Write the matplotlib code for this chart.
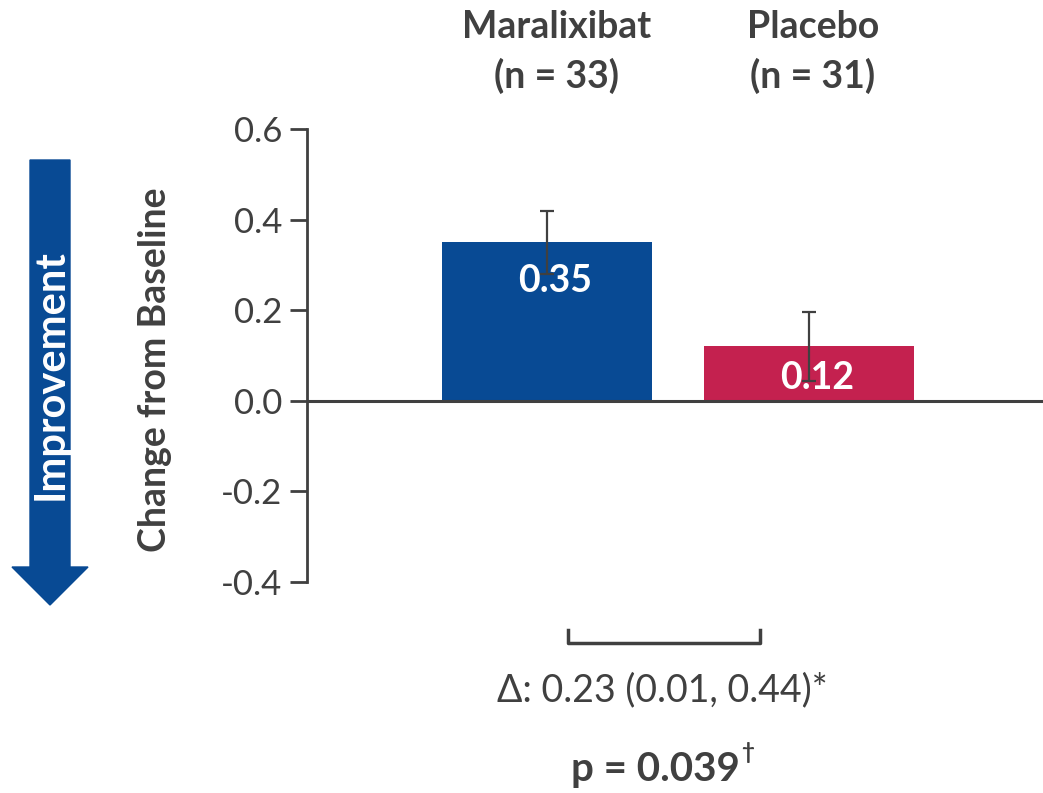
import matplotlib.pyplot as plt
from matplotlib.patches import FancyArrow

groups = ["Maralixibat\n(n = 33)", "Placebo\n(n = 31)"]
means = [0.35, 0.12]
errors = [0.07, 0.077]
labels = ["0.35", "0.12"]
yticks = [-0.4, -0.2, 0.0, 0.2, 0.4, 0.6]
bar_colors = ["#084A94", "#C4214F"]
dark = "#404040"

plt.rcParams['font.family'] = ['Lato', 'DejaVu Sans']

W, H = 1043, 793
fig = plt.figure(figsize=(W / 100, H / 100), dpi=100)
ax = fig.add_axes([307 / W, 1 - 582 / H, 1 - 307 / W, (582 - 129) / H])

x = [0, 1]
ax.bar(x, means, width=0.8, color=bar_colors, zorder=2)
ax.errorbar(x, means, yerr=errors, fmt='none', ecolor=dark, elinewidth=1.6,
            capsize=5, capthick=1.6, zorder=3)
ax.axhline(0, color=dark, lw=2.2, zorder=4)

for xi, m, off in zip(x, means, [0.085, 0.07]):
    ax.text(xi + 0.03, m - off, labels[xi], ha='center', va='center', color='white',
            fontsize=27, fontweight='bold', zorder=5)

ax.set_xlim(-0.916, 1.893)
ax.set_ylim(-0.4, 0.6)
ax.set_yticks(yticks)
ax.set_yticklabels([f"{t:.1f}" for t in yticks], fontsize=25, color=dark)
ax.tick_params(axis='y', length=12, width=2, color=dark, pad=6)
ax.set_xticks([])
for s in ['top', 'right', 'bottom']:
    ax.spines[s].set_visible(False)
ax.spines['left'].set_color(dark)
ax.spines['left'].set_linewidth(2)

# group headers
for cx, g in zip([557, 813], groups):
    fig.text(cx / W, 1 - 52 / H, g, ha='center', va='center',
             fontsize=27, fontweight='bold', color=dark, linespacing=1.45)

fig.text(155 / W, 1 - 370 / H, "Change from Baseline", rotation=90, ha='center',
         va='center', fontsize=27, fontweight='bold', color=dark)

# improvement arrow
arr = FancyArrow(50 / W, 1 - 160 / H, 0, -(605 - 160) / H, width=40 / W,
                 head_width=76 / W, head_length=38 / H, length_includes_head=True,
                 color="#084A94", transform=fig.transFigure)
fig.patches.append(arr)
fig.text(51 / W, 1 - 375 / H, "Improvement", rotation=90, ha='center', va='center',
         fontsize=30, fontweight='bold', color='white')

# bracket and stats
fig.lines.append(plt.Line2D([568 / W, 568 / W, 760 / W, 760 / W],
                            [1 - 630 / H, 1 - 643 / H, 1 - 643 / H, 1 - 630 / H],
                            color=dark, lw=2.5, transform=fig.transFigure))
fig.text(662 / W, 1 - 690 / H, "Δ: 0.23 (0.01, 0.44)*", ha='center', va='center',
         fontsize=27, color=dark)
p_txt = fig.text(655 / W, 1 - 770 / H, "p = 0.039", ha='center', va='center',
                 fontsize=29, fontweight='bold', color=dark)
ax.annotate("\u2020", xy=(1, 1), xycoords=p_txt, xytext=(1, 7),
            textcoords='offset points', ha='left', va='top',
            fontsize=16, fontweight='bold', color=dark)

fig.savefig("out.png", dpi=100)
